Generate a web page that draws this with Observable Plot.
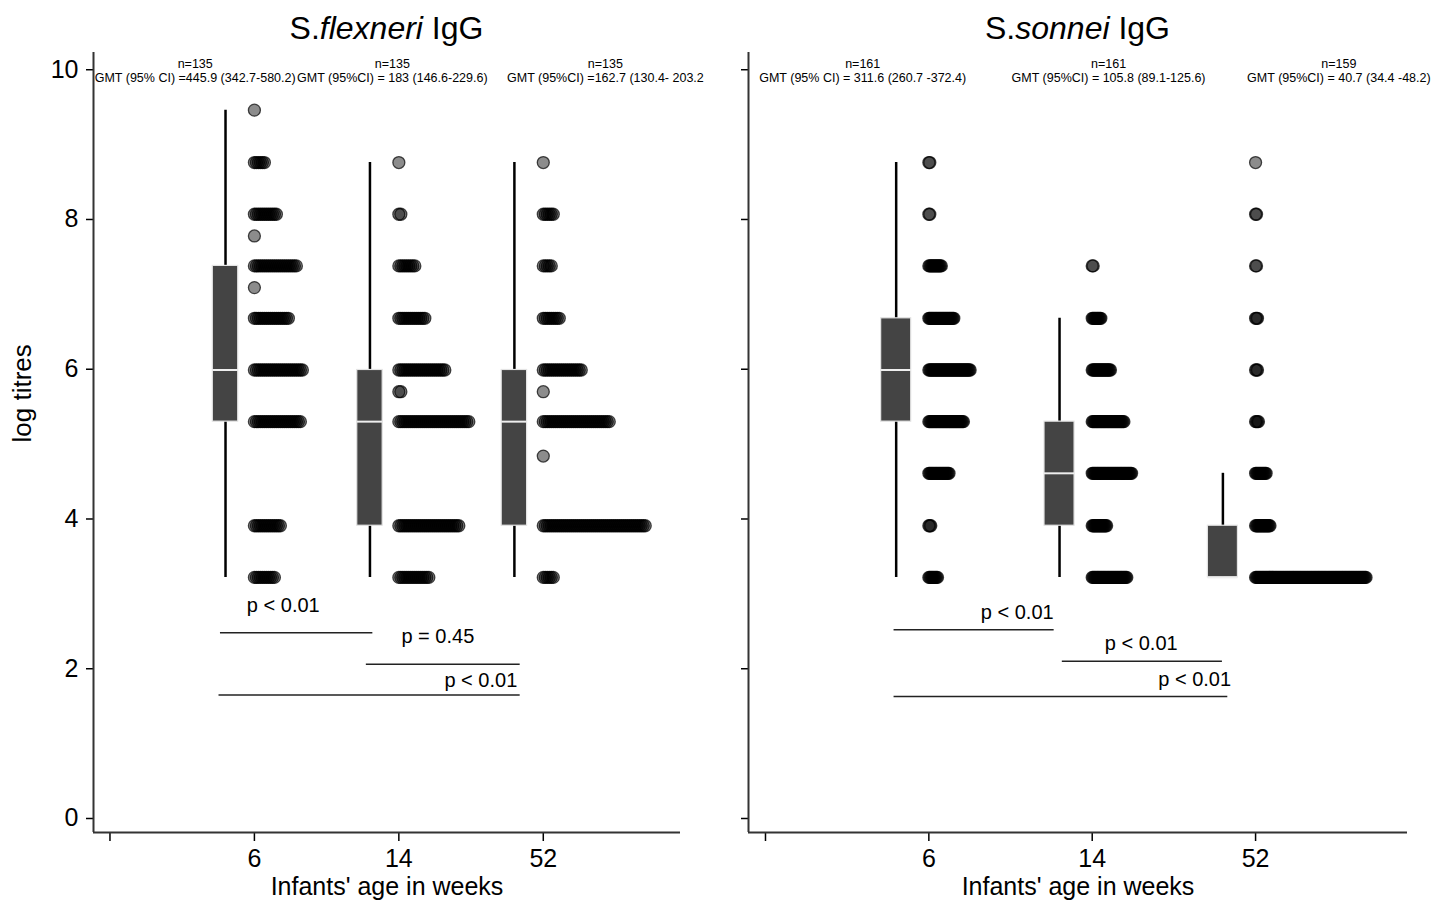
<!DOCTYPE html>
<html><head><meta charset="utf-8">
<script src="https://cdn.jsdelivr.net/npm/d3@7"></script>
<script src="https://cdn.jsdelivr.net/npm/@observablehq/plot@0.6"></script>
<style>
body{margin:0;background:#fff;font-family:"Liberation Sans",Arial,Helvetica,sans-serif;color:#000}
#wrap{display:flex;width:1449px;height:903px;overflow:hidden;background:#fff}
.panel{position:relative}
.title{box-sizing:border-box;height:44px;line-height:44px;font-size:32px;text-align:center;white-space:nowrap;position:relative;top:6px}
.title i{font-style:italic}
svg{overflow:visible;display:block}
</style></head><body><div id="wrap"></div>
<script>
// ---------- data ----------
const weeks = ["6", "14", "52"];
const xTickLabels = ["", "6", "14", "52"];
const yTicks = [0, 2, 4, 6, 8, 10];

// S. flexneri: log-titre levels and number of infants at each level per age
const flexLevels  = [3.22, 3.91, 4.84, 5.30, 5.70, 5.99, 6.68, 7.09, 7.38, 7.78, 8.07, 8.76, 9.46];
const flexCount6  = [11, 14, 0, 24, 0, 25, 18, 1, 22, 1, 12, 6, 1];
const flexCount14 = [16, 31, 0, 36, 2, 24, 14, 0, 9, 0, 2, 1, 0];
const flexCount52 = [6, 52, 1, 34, 1, 20, 9, 0, 5, 0, 6, 1, 0];
const flexLow  = [3.22, 3.22, 3.22];
const flexQ1   = [5.30, 3.91, 3.91];
const flexMed  = [5.99, 5.30, 5.30];
const flexQ3   = [7.38, 5.99, 5.99];
const flexHigh = [9.46, 8.76, 8.76];
const flexN   = ["n=135", "n=135", "n=135"];
const flexGMT = ["GMT (95% CI) =445.9 (342.7-580.2)", "GMT (95%CI) = 183 (146.6-229.6)", "GMT (95%CI) =162.7 (130.4- 203.2"];
const flexP   = ["p < 0.01", "p = 0.45", "p < 0.01"];

// S. sonnei
const sonLevels  = [3.22, 3.91, 4.61, 5.30, 5.99, 6.68, 7.38, 8.07, 8.76];
const sonCount6  = [10, 3, 22, 37, 44, 27, 14, 2, 2];
const sonCount14 = [37, 16, 42, 34, 20, 10, 2, 0, 0];
const sonCount52 = [116, 16, 12, 4, 3, 3, 2, 2, 1];
const sonLow  = [3.22, 3.22, 3.22];
const sonQ1   = [5.30, 3.91, 3.22];
const sonMed  = [5.99, 4.61, 3.22];
const sonQ3   = [6.68, 5.30, 3.91];
const sonHigh = [8.76, 6.68, 4.61];
const sonN   = ["n=161", "n=161", "n=159"];
const sonGMT = ["GMT (95% CI) = 311.6 (260.7 -372.4)", "GMT (95%CI) = 105.8 (89.1-125.6)", "GMT (95%CI) = 40.7 (34.4 -48.2)"];
const sonP   = ["p < 0.01", "p < 0.01", "p < 0.01"];

const yLabel = "log titres";
const xLabel = "Infants' age in weeks";

// ---------- layout ----------
const yDomain = [-0.187, 10.23];
const FONT = '"Liberation Sans", Arial, Helvetica, sans-serif';

const left = {
  title: 'S.<i>flexneri</i> IgG', width: 724, marginLeft: 93, marginRight: 44,
  xDomain: [-0.114, 3.95], spacing: 0.01384, boxW: 0.176, showY: true,
  levels: flexLevels, counts: [flexCount6, flexCount14, flexCount52],
  low: flexLow, q1: flexQ1, med: flexMed, q3: flexQ3, high: flexHigh,
  nText: flexN, gmt: flexGMT, p: flexP,
  annX: [0.59, 1.955, 3.43],
  pPos: [
    {x1: 0.765, x2: 1.82, y: 2.48, tx: 1.20, ty: 2.84, anchor: "middle"},
    {x1: 1.775, x2: 2.84, y: 2.06, tx: 2.27, ty: 2.43, anchor: "middle"},
    {x1: 0.755, x2: 2.84, y: 1.65, tx: 2.82, ty: 1.84, anchor: "end"}
  ]
};
const right = {
  title: 'S.<i>sonnei</i> IgG', width: 725, marginLeft: 24, marginRight: 42,
  xDomain: [-0.104, 3.93], spacing: 0.00588, boxW: 0.184, showY: false,
  levels: sonLevels, counts: [sonCount6, sonCount14, sonCount52],
  low: sonLow, q1: sonQ1, med: sonMed, q3: sonQ3, high: sonHigh,
  nText: sonN, gmt: sonGMT, p: sonP,
  annX: [0.595, 2.10, 3.51],
  pPos: [
    {x1: 0.787, x2: 1.767, y: 2.52, tx: 1.764, ty: 2.75, anchor: "end"},
    {x1: 1.817, x2: 2.797, y: 2.10, tx: 2.30, ty: 2.33, anchor: "middle"},
    {x1: 0.787, x2: 2.83, y: 1.63, tx: 2.85, ty: 1.86, anchor: "end"}
  ]
};

function panel(cfg) {
  const dots = [];
  cfg.counts.forEach((cs, g) => cs.forEach((c, j) => {
    for (let k = 0; k < c; k++) dots.push({x: g + 1 + k * cfg.spacing, y: cfg.levels[j]});
  }));
  const boxes = weeks.map((w, g) => ({
    x: g + 1 - 0.2, lo: cfg.low[g], q1: cfg.q1[g], med: cfg.med[g], q3: cfg.q3[g], hi: cfg.high[g]
  }));
  const ann = weeks.map((w, g) => ({x: cfg.annX[g], n: cfg.nText[g], gmt: cfg.gmt[g]}));
  const pv = cfg.pPos.map((d, i) => ({...d, text: cfg.p[i]}));
  const bw = cfg.boxW / 2;

  const marks = [
    Plot.axisY({ticks: yTicks, tickSize: 7, tickPadding: 8, fontSize: 25, strokeWidth: 1.5,
      tickFormat: cfg.showY ? (d => String(d)) : (() => ""), label: null}),
    Plot.axisX({ticks: [0, 1, 2, 3], tickSize: 9, tickPadding: 8, fontSize: 25, strokeWidth: 1.5,
      tickFormat: i => xTickLabels[i], label: null}),
    Plot.ruleX([cfg.xDomain[0]], {stroke: "#333", strokeWidth: 2}),
    Plot.ruleY([yDomain[0]], {stroke: "#333", strokeWidth: 2}),
    Plot.text([xLabel], {frameAnchor: "bottom", lineAnchor: "middle", dy: 54, fontSize: 25, fill: "black"}),
    // whiskers
    Plot.ruleX(boxes, {x: "x", y1: "lo", y2: "hi", stroke: "black", strokeWidth: 2.5}),
    // boxes
    Plot.rect(boxes, {x1: d => d.x - bw, x2: d => d.x + bw, y1: "q1", y2: "q3",
      fill: "#444", stroke: "#e4e4e4", strokeWidth: 1.2}),
    Plot.ruleY(boxes, {y: "med", x1: d => d.x - bw, x2: d => d.x + bw, stroke: "#eee", strokeWidth: 2}),
    // dots
    Plot.dot(dots, {x: "x", y: "y", r: 6, fill: "black", fillOpacity: 0.45,
      stroke: "black", strokeOpacity: 0.7, strokeWidth: 1.3}),
    // n and GMT annotations
    Plot.text(ann, {x: "x", y: 10.08, text: "n", fontSize: 12.5, fill: "black"}),
    Plot.text(ann, {x: "x", y: 9.89, text: "gmt", fontSize: 12.5, fill: "black"}),
    // comparisons
    Plot.ruleY(pv, {y: "y", x1: "x1", x2: "x2", stroke: "#222", strokeWidth: 1.5}),
    Plot.text(pv.filter(d => d.anchor === "middle"), {x: "tx", y: "ty", text: "text", fontSize: 20, textAnchor: "middle", fill: "black"}),
    Plot.text(pv.filter(d => d.anchor === "end"), {x: "tx", y: "ty", text: "text", fontSize: 20, textAnchor: "end", fill: "black"})
  ];
  if (cfg.showY) marks.push(Plot.text([yLabel], {frameAnchor: "left", lineAnchor: "middle", dx: -71, rotate: -90, fontSize: 26, fill: "black"}));

  const svg = Plot.plot({
    width: cfg.width, height: 859,
    marginLeft: cfg.marginLeft, marginRight: cfg.marginRight, marginTop: 8, marginBottom: 71,
    x: {type: "linear", domain: cfg.xDomain},
    y: {type: "linear", domain: yDomain},
    style: {fontFamily: FONT, background: "white", color: "black", overflow: "visible"},
    marks
  });
  const div = document.createElement("div");
  div.className = "panel";
  div.style.width = cfg.width + "px";
  const t = document.createElement("div");
  t.className = "title";
  t.style.paddingLeft = cfg.marginLeft + "px";
  t.style.paddingRight = cfg.marginRight + "px";
  t.innerHTML = cfg.title;
  div.appendChild(t);
  div.appendChild(svg);
  return div;
}

const wrap = document.getElementById("wrap");
wrap.appendChild(panel(left));
wrap.appendChild(panel(right));
</script></body></html>
